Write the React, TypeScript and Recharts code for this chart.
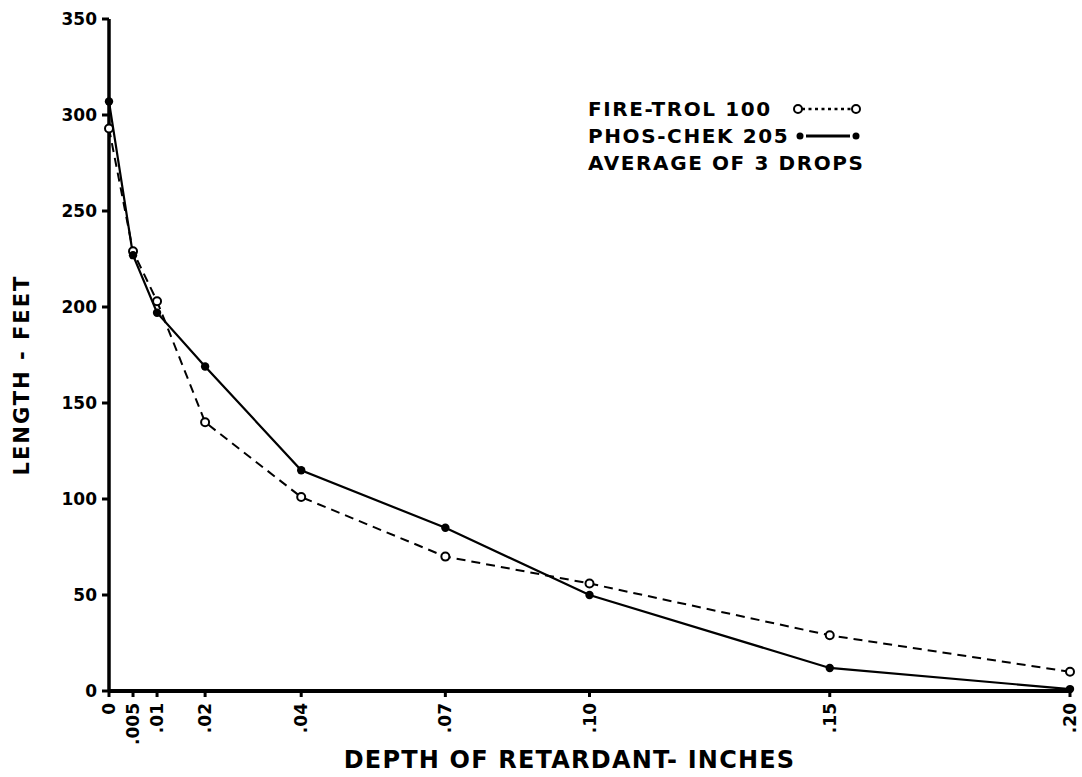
import React from "react";
import { LineChart, Line, XAxis, YAxis, Legend, Label } from "recharts";

const DEPTHS = [0, 0.005, 0.01, 0.02, 0.04, 0.07, 0.1, 0.15, 0.2];
const FIRE_TROL = [293, 229, 203, 140, 101, 70, 56, 29, 10];
const PHOS_CHEK = [307, 227, 197, 169, 115, 85, 50, 12, 1];
const X_TICK_LABELS = ["0", ".005", ".01", ".02", ".04", ".07", ".10", ".15", ".20"];
const Y_TICKS = [0, 50, 100, 150, 200, 250, 300, 350];

const FONT = "'DejaVu Sans', sans-serif";

const data = DEPTHS.map((d, i) => ({
    depth: d,
    fireTrol: FIRE_TROL[i],
    phosChek: PHOS_CHEK[i],
}));

// rotated x tick labels, reading bottom to top
function DepthTick(props: any) {
    const { x, y, payload } = props;
    const idx = DEPTHS.indexOf(payload.value);
    const label = idx >= 0 ? X_TICK_LABELS[idx] : String(payload.value);
    return (
        <text
            x={x + 6}
            y={y}
            transform={`rotate(-90, ${x + 6}, ${y})`}
            textAnchor="end"
            fontFamily={FONT}
            fontWeight="bold"
            fontSize={17}
            fill="#000"
        >
            {label}
        </text>
    );
}

function OpenDot(props: any) {
    const { cx, cy, index } = props;
    return <circle key={`o-${index}`} cx={cx} cy={cy} r={4} fill="#fff" stroke="#000" strokeWidth={2} />;
}

function FilledDot(props: any) {
    const { cx, cy, index } = props;
    return <circle key={`f-${index}`} cx={cx} cy={cy} r={4.2} fill="#000" stroke="none" />;
}

function LegendBox(props: any) {
    const payload = props.payload || [];
    const rowStyle: React.CSSProperties = { position: "relative", height: 27, whiteSpace: "nowrap" };
    return (
        <div style={{ fontFamily: FONT, fontWeight: "bold", fontSize: 20, letterSpacing: 1.6, lineHeight: "27px", color: "#000", textAlign: "left" }}>
            {payload.map((entry: any) => {
                const open = entry.dataKey === "fireTrol";
                return (
                    <div key={entry.value} style={rowStyle}>
                        <span>{entry.value}</span>
                        <svg width={70} height={14} style={{ position: "absolute", left: open ? 204 : 207, top: 6 }}>
                            {open ? (
                                <>
                                    <line x1={10} y1={7} x2={60} y2={7} stroke="#000" strokeWidth={2.5} strokeDasharray="3 3.5" />
                                    <circle cx={6} cy={7} r={4} fill="#fff" stroke="#000" strokeWidth={2} />
                                    <circle cx={64} cy={7} r={4} fill="#fff" stroke="#000" strokeWidth={2} />
                                </>
                            ) : (
                                <>
                                    <line x1={11} y1={7} x2={55} y2={7} stroke="#000" strokeWidth={3} />
                                    <circle cx={5} cy={7} r={3.5} fill="#000" />
                                    <circle cx={61} cy={7} r={3.5} fill="#000" />
                                </>
                            )}
                        </svg>
                    </div>
                );
            })}
            <div style={rowStyle}>AVERAGE OF 3 DROPS</div>
        </div>
    );
}

export default function App() {
    return (
        <div style={{ position: "absolute", left: 0, top: 0, width: 1082, height: 777, background: "#fff" }}>
            <LineChart width={1082} height={777} data={data} margin={{ top: 19, right: 12, bottom: 0, left: 0 }}>
                <XAxis
                    dataKey="depth"
                    type="number"
                    domain={[0, 0.2]}
                    ticks={DEPTHS}
                    interval={0}
                    height={86}
                    tick={<DepthTick />}
                    tickSize={6}
                    tickMargin={6}
                    axisLine={{ stroke: "#000", strokeWidth: 4 }}
                    tickLine={{ stroke: "#000", strokeWidth: 3 }}
                >
                    <Label
                        content={({ viewBox }: any) => (
                            <text
                                x={viewBox.x + viewBox.width / 2 - 20}
                                y={viewBox.y + 77}
                                textAnchor="middle"
                                fontFamily={FONT}
                                fontWeight="bold"
                                fontSize={24}
                                letterSpacing={1.2}
                                fill="#000"
                            >
                                DEPTH OF RETARDANT- INCHES
                            </text>
                        )}
                    />
                </XAxis>
                <YAxis
                    type="number"
                    domain={[0, 350]}
                    ticks={Y_TICKS}
                    interval={0}
                    width={109}
                    tickSize={7}
                    tickMargin={5}
                    axisLine={{ stroke: "#000", strokeWidth: 3.5 }}
                    tickLine={{ stroke: "#000", strokeWidth: 3 }}
                    tick={{ fill: "#000", fontFamily: FONT, fontWeight: "bold", fontSize: 17 }}
                >
                    <Label
                        content={({ viewBox }: any) => {
                            const cx = 22;
                            const cy = viewBox.y + viewBox.height / 2 + 20;
                            return (
                                <text
                                    x={cx}
                                    y={cy}
                                    transform={`rotate(-90, ${cx}, ${cy})`}
                                    textAnchor="middle"
                                    dominantBaseline="central"
                                    fontFamily={FONT}
                                    fontWeight="bold"
                                    fontSize={21}
                                    letterSpacing={2}
                                    fill="#000"
                                >
                                    LENGTH - FEET
                                </text>
                            );
                        }}
                    />
                </YAxis>
                <Legend
                    layout="vertical"
                    align="center"
                    verticalAlign="middle"
                    content={<LegendBox />}
                    wrapperStyle={{ left: 588, top: 96, width: 340, height: 85 }}
                />
                <Line
                    type="linear"
                    dataKey="fireTrol"
                    name="FIRE-TROL 100"
                    stroke="#000"
                    strokeWidth={2}
                    strokeDasharray="9 6"
                    dot={OpenDot}
                    activeDot={false}
                    isAnimationActive={false}
                />
                <Line
                    type="linear"
                    dataKey="phosChek"
                    name="PHOS-CHEK 205"
                    stroke="#000"
                    strokeWidth={2.2}
                    dot={FilledDot}
                    activeDot={false}
                    isAnimationActive={false}
                />
            </LineChart>
        </div>
    );
}
